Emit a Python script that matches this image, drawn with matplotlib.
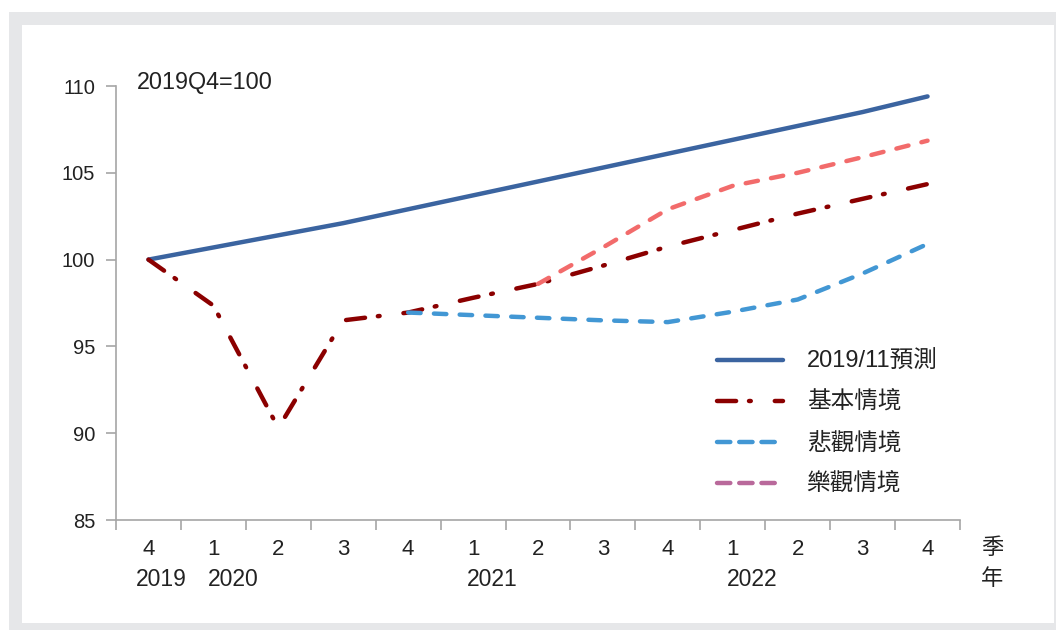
import numpy as np
import matplotlib
matplotlib.use("Agg")
import matplotlib.pyplot as plt
from matplotlib.lines import Line2D
from matplotlib.patches import Rectangle

plt.rcParams['font.family'] = ['Liberation Sans', 'Noto Sans CJK TC', 'DejaVu Sans']

# data (index 2019Q4 = 100)
quarters = ['4', '1', '2', '3', '4', '1', '2', '3', '4', '1', '2', '3', '4']
years = ['2019', '2020', '2021', '2022']
year_pos = [0.2, 1.3, 5.3, 9.3]

forecast = [100.0, 100.7, 101.4, 102.1, 102.9, 103.7, 104.5, 105.3, 106.1, 106.9, 107.7, 108.5, 109.4]
base = [100.0, 97.35, 90.3, 96.5, 96.95, 97.8, 98.6, 99.65, 100.75, 101.7, 102.65, 103.5, 104.35]
pess_x = [4, 5, 6, 7, 8, 9, 10, 11, 12]
pess = [96.95, 96.8, 96.65, 96.5, 96.4, 97.0, 97.7, 99.2, 100.9]
opt_x = [6, 7, 8, 9, 10, 11, 12]
opt = [98.6, 100.7, 102.9, 104.25, 105.0, 105.9, 106.85]

labels = ['2019/11預測', '基本情境', '悲觀情境', '樂觀情境']
c_fc = '#3b64a0'
c_base = '#8b0000'
c_pess = '#4297d4'
c_opt = '#f26b6b'
c_opt_leg = '#b9699b'
txt = '#222222'

fig = plt.figure(figsize=(10.56, 6.30), dpi=100)
W, H = 1056, 630
# gray frame + white panel
fig.patches.append(Rectangle((9 / W, 0), 1 - 9 / W, 618 / H, transform=fig.transFigure,
                             facecolor='#e6e7e9', edgecolor='none', zorder=-2))
fig.patches.append(Rectangle((22 / W, 7 / H), 1032 / W, 598 / H, transform=fig.transFigure,
                             facecolor='white', edgecolor='none', zorder=-1))

ax = fig.add_axes([116 / W, 1 - 520 / H, 844 / W, 434 / H])
ax.patch.set_alpha(0)

x = np.arange(len(quarters))
lw = 3.2
base_dash = (4.3, 2.9, 0.4, 5.4)
ax.plot(x, forecast, color=c_fc, lw=lw, solid_capstyle='round')
ax.plot(x, base, color=c_base, lw=lw, dashes=base_dash, dash_capstyle='round')
ax.plot(pess_x, pess, color=c_pess, lw=lw, dashes=(2.8, 3.0), dash_capstyle='round')
ax.plot(opt_x, opt, color=c_opt, lw=lw, dashes=(2.8, 3.0), dash_capstyle='round')

ax.set_xlim(-0.5, 12.5)
ax.set_ylim(85, 110)
ax.set_yticks([85, 90, 95, 100, 105, 110])

for s in ['top', 'right']:
    ax.spines[s].set_visible(False)
for s in ['left', 'bottom']:
    ax.spines[s].set_color('#a6a6a6')
    ax.spines[s].set_linewidth(1.2)

ax.tick_params(axis='y', length=7, width=1.2, color='#a6a6a6', labelsize=14.5,
               labelcolor=txt, pad=8)
ax.set_xticks(x)
ax.set_xticklabels(quarters)
ax.set_xticks(np.arange(-0.5, 13, 1), minor=True)
ax.tick_params(axis='x', which='major', length=0, labelsize=16, labelcolor=txt, pad=14)
ax.tick_params(axis='x', which='minor', length=7, width=1.2, color='#a6a6a6')

tr = ax.get_xaxis_transform()
for yl, p in zip(years, year_pos):
    ax.text(p, -0.137, yl, transform=tr, ha='center', va='center', fontsize=16.5, color=txt)
ax.text(13.0, -0.065, '季', transform=tr, ha='center', va='center', fontsize=16, color=txt)
ax.text(13.0, -0.138, '年', transform=tr, ha='center', va='center', fontsize=16, color=txt)

ax.text(0.025, 1.007, '2019Q4=100', transform=ax.transAxes, ha='left', va='center',
        fontsize=16.8, color=txt)

handles = [
    Line2D([], [], color=c_fc, lw=lw, solid_capstyle='round'),
    Line2D([], [], color=c_base, lw=lw, dashes=base_dash, dash_capstyle='round'),
    Line2D([], [], color=c_pess, lw=lw, dashes=(3.0, 2.0), dash_capstyle='round'),
    Line2D([], [], color=c_opt_leg, lw=lw, dashes=(3.0, 2.0), dash_capstyle='round'),
]
leg = ax.legend(handles, labels, loc='upper left', bbox_to_anchor=(0.712, 0.39),
                frameon=False, fontsize=17, handlelength=2.8, handletextpad=1.0,
                labelspacing=0.79, borderpad=0, borderaxespad=0, labelcolor=txt)

fig.savefig('out.png', dpi=100)
